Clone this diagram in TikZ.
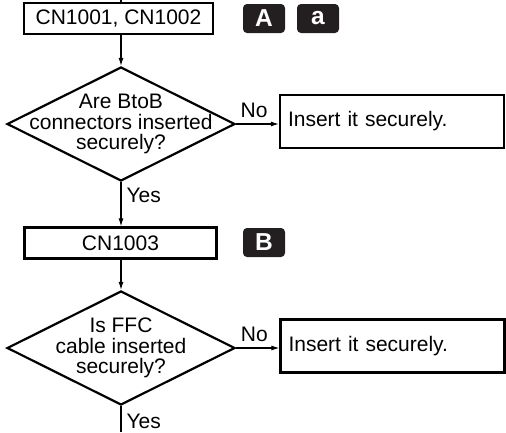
\documentclass[tikz,border=0pt]{standalone}
\usepackage{fontspec}
\setmainfont{Liberation Sans}
\usepackage{tikz}
\usetikzlibrary{shapes.geometric,arrows.meta}
\definecolor{badgeblk}{HTML}{231F20}

\begin{document}
\begin{tikzpicture}[x=1pt,y=1pt,
  txt/.style={font=\fontsize{21}{20.5}\selectfont},
  box/.style={txt,draw,line width=2.2pt,minimum height=31pt,inner sep=0pt},
  fixbox/.style={txt,draw,line width=2.2pt,minimum height=53pt,text width=208pt,inner xsep=8pt,align=left},
  dia/.style={draw,diamond,line width=2.2pt,minimum width=228pt,minimum height=114pt,inner sep=0pt},
  qtext/.style={txt,align=center,inner sep=0pt},
  badge/.style={fill=badgeblk,text=white,rounded corners=4pt,minimum width=42pt,minimum height=29pt,inner sep=0pt,font=\fontsize{24.5}{26}\selectfont\bfseries},
  arr/.style={-{Latex[length=8pt,width=5pt]},line width=1.1pt},
  lnk/.style={line width=1.1pt}]
\useasboundingbox (0,0) rectangle (506,-432);
\coordinate (top) at (121,0);
\coordinate (bot) at (121,-432);
\node[box,minimum width=189pt] (cn12) at (118.5,-18.5) {CN1001, CN1002};
\node[badge] (badgeA) at (264,-18.5) {A};
\node[badge] (badgea) at (318,-18.5) {a};
\node[dia] (q1) at (121,-124) {};
\node[qtext] (q1txt) at (q1) {Are BtoB\\connectors inserted\\securely?};
\node[fixbox] (fix1) at (392,-121.5) {Insert it securely.};
\node[box,minimum width=192pt] (cn3) at (120.5,-243) {CN1003};
\node[badge] (badgeB) at (264,-242.5) {B};
\node[dia] (q2) at (121,-348) {};
\node[qtext] (q2txt) at (q2) {Is FFC\\cable inserted\\securely?};
\node[fixbox] (fix2) at (392.5,-346) {Insert it securely.};
\draw[lnk] (top) -- (top |- cn12.north);
\draw[arr] (q1.north |- cn12.south) -- (q1.north);
\draw[arr] (q1.east) -- node[txt,pos=0.42,above,inner sep=2pt,yshift=4pt]{No} (q1.east -| fix1.west);
\draw[arr] (q1.south) -- node[txt,pos=0.3,right,inner sep=5pt]{Yes} (q1.south |- cn3.north);
\draw[arr] (q2.north |- cn3.south) -- (q2.north);
\draw[arr] (q2.east) -- node[txt,pos=0.42,above,inner sep=2pt,yshift=4pt]{No} (q2.east -| fix2.west);
\draw[lnk] (q2.south) -- node[txt,pos=0.6,right,inner sep=5pt]{Yes} (bot);
\end{tikzpicture}
\end{document}
